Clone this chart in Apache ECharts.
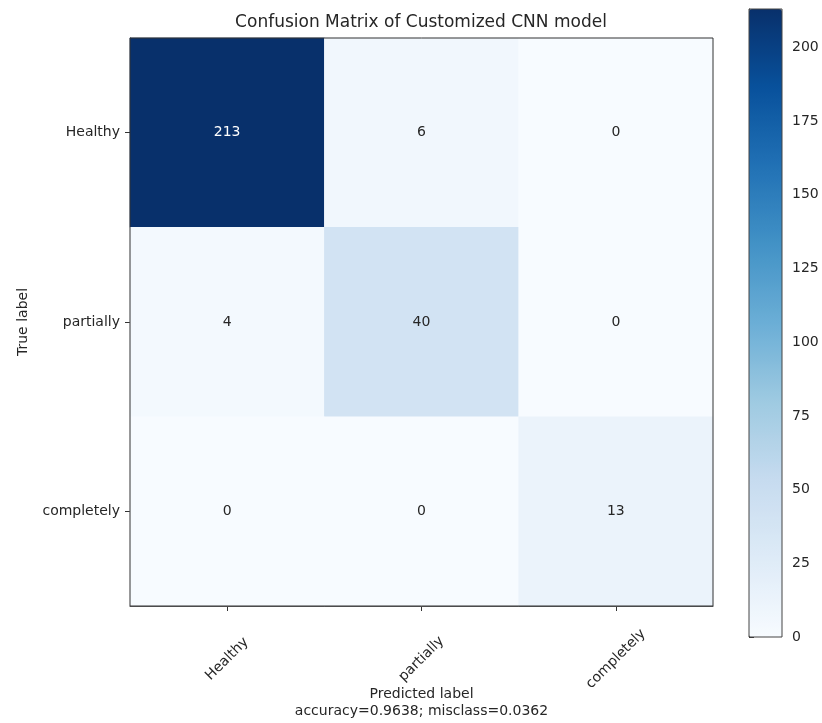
<!DOCTYPE html>
<html>
<head>
<meta charset="utf-8">
<title>Confusion Matrix</title>
<script src="https://cdn.jsdelivr.net/npm/echarts@6/dist/echarts.min.js"></script>
<style>
  html, body { margin: 0; padding: 0; background: #ffffff; }
  #chart { width: 822px; height: 723px; }
</style>
</head>
<body>
<div id="chart"></div>
<script>
// Class names, shared by the predicted (x) and true (y) axes
const classNames = ['Healthy', 'partially', 'completely'];

// Confusion counts, one array per true class (row), columns are predicted classes
const rowHealthy = [213, 6, 0];
const rowPartially = [4, 40, 0];
const rowCompletely = [0, 0, 13];
const matrixRows = [rowHealthy, rowPartially, rowCompletely];

// Colour bar scale and ticks
const colorMin = 0;
const colorMax = 213;
const colorTickStep = 25;

// Summary line under the x axis title
const accuracyText = 'accuracy=0.9638; misclass=0.0362';

// matplotlib "Blues" colormap stops
const blues = ['#f7fbff', '#deebf7', '#c6dbef', '#9ecae1', '#6baed6',
               '#4292c6', '#2171b5', '#08519c', '#08306b'];

const FONT = 'DejaVu Sans';
const INK = '#262626';
const threshold = colorMax / 2;

// Heatmap cells: [predicted index, true index, count]
const cells = [];
matrixRows.forEach((row, yi) => {
  row.forEach((v, xi) => {
    cells.push({
      value: [xi, yi, v],
      label: { color: v > threshold ? '#ffffff' : INK }
    });
  });
});

const chart = echarts.init(document.getElementById('chart'), null, { renderer: 'canvas' });

const option = {
  backgroundColor: '#ffffff',
  animation: false,
  title: {
    text: 'Confusion Matrix of Customized CNN model',
    left: 421,
    textAlign: 'center',
    top: 14,
    padding: 0,
    textStyle: { fontFamily: FONT, fontSize: 17, fontWeight: 'normal', color: INK }
  },
  grid: [
    { left: 130, top: 38, width: 583, height: 568, show: true, z: 10,
      outerBoundsMode: 'none', containLabel: false,
      backgroundColor: 'transparent', borderColor: '#333', borderWidth: 1 },
    { left: 749, top: 9, width: 33, height: 628, show: true, z: 10,
      outerBoundsMode: 'none', containLabel: false,
      backgroundColor: 'transparent', borderColor: '#444', borderWidth: 1 }
  ],
  xAxis: [
    {
      type: 'category',
      gridIndex: 0,
      data: classNames,
      position: 'bottom',
      axisLine: { show: true, lineStyle: { color: '#333', width: 1 } },
      axisTick: { show: true, alignWithLabel: true, length: 5, lineStyle: { color: '#333' } },
      axisLabel: {
        interval: 0, rotate: 45, align: 'center', verticalAlign: 'middle', margin: 53,
        fontFamily: FONT, fontSize: 14, color: INK
      },
      splitLine: { show: false },
      name: 'Predicted label\n' + accuracyText,
      nameLocation: 'middle',
      nameGap: 80,
      nameMoveOverlap: false,
      nameTextStyle: { fontFamily: FONT, fontSize: 14, color: INK, lineHeight: 17, align: 'center' }
    },
    {
      type: 'value', gridIndex: 1, show: false, min: 0, max: 1
    }
  ],
  yAxis: [
    {
      type: 'category',
      gridIndex: 0,
      data: classNames,
      inverse: true,
      axisLine: { show: true, lineStyle: { color: '#333', width: 1 } },
      axisTick: { show: true, alignWithLabel: true, length: 5, lineStyle: { color: '#333' } },
      axisLabel: { interval: 0, margin: 10, fontFamily: FONT, fontSize: 14, color: INK },
      splitLine: { show: false },
      name: 'True label',
      nameLocation: 'middle',
      nameRotate: 90,
      nameGap: 100,
      nameMoveOverlap: false,
      nameTextStyle: { fontFamily: FONT, fontSize: 14, color: INK }
    },
    {
      type: 'value',
      gridIndex: 1,
      position: 'right',
      min: colorMin,
      max: colorMax,
      interval: colorTickStep,
      axisLine: { show: true, lineStyle: { color: '#444', width: 1 } },
      axisTick: { show: true, length: 5, lineStyle: { color: '#333' } },
      axisLabel: {
        margin: 10, fontFamily: FONT, fontSize: 14, color: INK,
        showMaxLabel: false
      },
      splitLine: { show: false }
    }
  ],
  visualMap: {
    type: 'continuous',
    min: colorMin,
    max: colorMax,
    seriesIndex: 0,
    calculable: false,
    orient: 'vertical',
    left: 749,
    top: 9,
    padding: 0,
    itemWidth: 33,
    itemHeight: 628,
    text: null,
    showLabel: false,
    inRange: { color: blues }
  },
  series: [
    {
      type: 'heatmap',
      xAxisIndex: 0,
      yAxisIndex: 0,
      data: cells,
      label: {
        show: true,
        fontFamily: FONT,
        fontSize: 14,
        formatter: p => String(p.value[2])
      },
      emphasis: { disabled: true },
      itemStyle: { borderWidth: 0 }
    }
  ]
};

chart.setOption(option);
</script>
</body>
</html>
